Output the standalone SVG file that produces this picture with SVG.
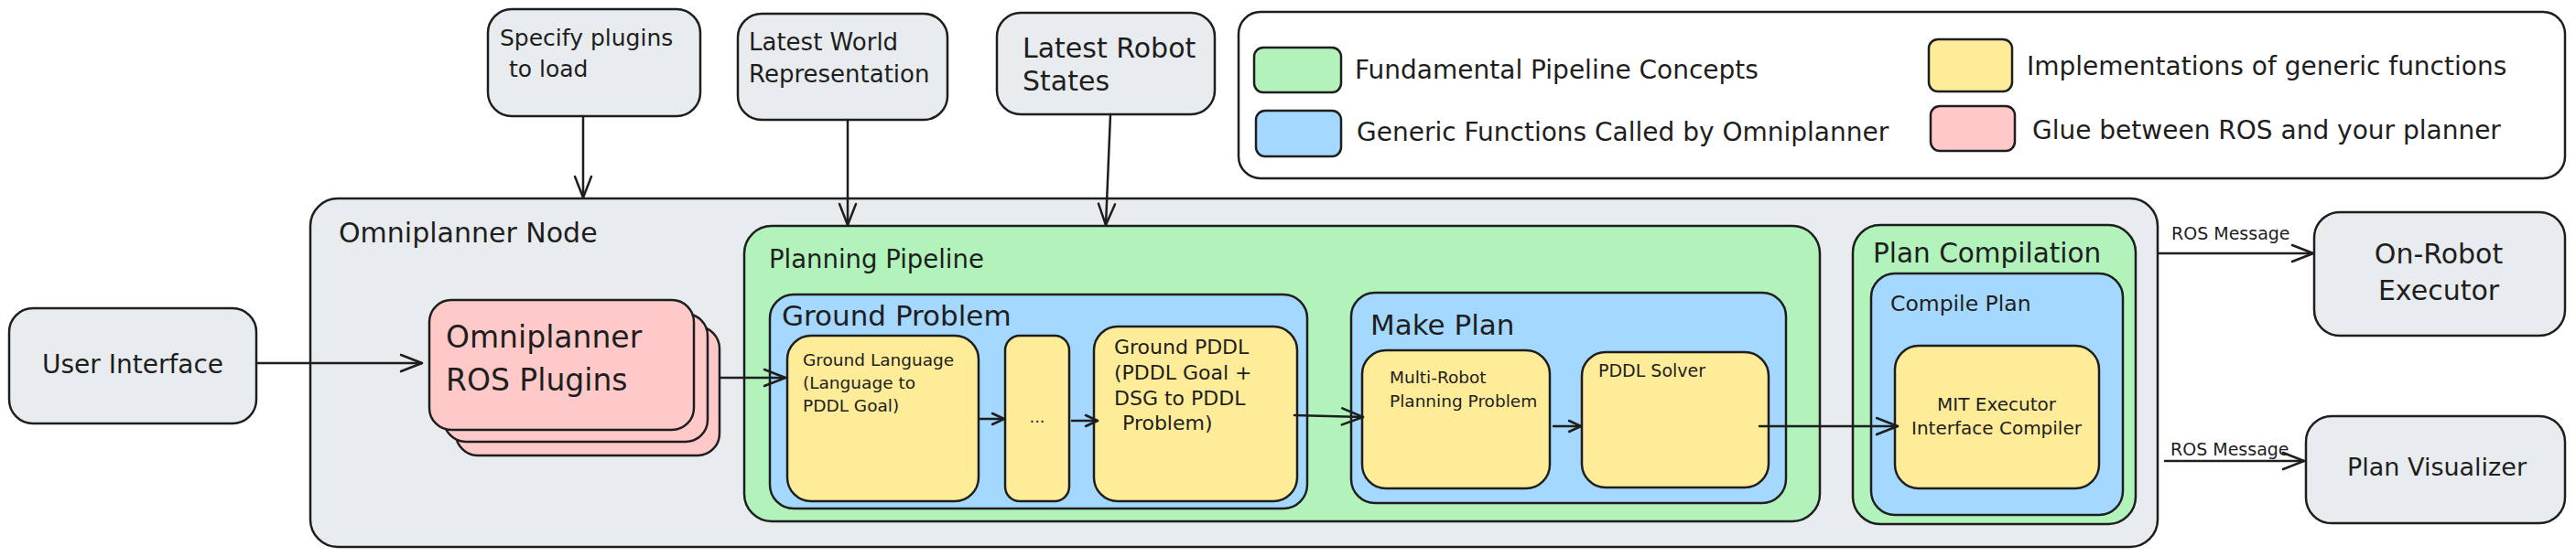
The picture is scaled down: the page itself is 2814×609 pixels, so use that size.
<svg xmlns="http://www.w3.org/2000/svg" width="2814" height="609" viewBox="0 0 2814 609">
<style>
.box{stroke:#1e1e1e;stroke-width:2.5;stroke-linejoin:round}
.gray{fill:#e9ecef}
.white{fill:#ffffff}
.green{fill:#b2f2bb}
.blue{fill:#a5d8ff}
.yellow{fill:#ffec99}
.pink{fill:#ffc9c9}
text{font-family:"DejaVu Sans","Liberation Sans",sans-serif;fill:#1e1e1e}
.conn{stroke:#1e1e1e;stroke-width:2.5;fill:none;stroke-linecap:round}
.big{marker-end:url(#ah)}
.small{marker-end:url(#as)}
.mid{text-anchor:middle}
</style>
<defs>
<marker id="ah" markerUnits="userSpaceOnUse" markerWidth="1" markerHeight="1" refX="0" refY="0" orient="auto" overflow="visible">
<path d="M-23,-9 L0,0 L-23,9" fill="none" stroke="#1e1e1e" stroke-width="2.5" stroke-linecap="round" stroke-linejoin="round"/>
</marker>
<marker id="as" markerUnits="userSpaceOnUse" markerWidth="1" markerHeight="1" refX="0" refY="0" orient="auto" overflow="visible">
<path d="M-13,-6 L0,0 L-13,6" fill="none" stroke="#1e1e1e" stroke-width="2.5" stroke-linecap="round" stroke-linejoin="round"/>
</marker>
</defs>
<rect width="2814" height="609" fill="#ffffff"/>

<g id="specify-plugins">
<rect class="box gray" x="533" y="10" width="232" height="117" rx="26"/>
<text x="546" y="50" font-size="25">Specify plugins</text>
<text x="556" y="84" font-size="25">to load</text>
</g>
<g id="latest-world">
<rect class="box gray" x="806" y="15" width="229" height="116" rx="26"/>
<text x="818" y="55" font-size="26">Latest World</text>
<text x="818" y="90" font-size="26">Representation</text>
</g>
<g id="latest-robot">
<rect class="box gray" x="1089" y="14" width="238" height="111" rx="26"/>
<text x="1117" y="63" font-size="30">Latest Robot</text>
<text x="1117" y="99" font-size="30">States</text>
</g>

<g id="legend">
<rect class="box white" x="1353" y="13" width="1449" height="182" rx="24"/>
<rect class="box green" x="1370" y="52" width="95" height="49" rx="10"/>
<rect class="box blue" x="1372" y="121" width="93" height="50" rx="10"/>
<rect class="box yellow" x="2107" y="43" width="91" height="57" rx="10"/>
<rect class="box pink" x="2109" y="116" width="92" height="49" rx="10"/>
<text x="1480" y="86" font-size="28">Fundamental Pipeline Concepts</text>
<text x="1482" y="154" font-size="28">Generic Functions Called by Omniplanner</text>
<text x="2214" y="82" font-size="28">Implementations of generic functions</text>
<text x="2220" y="152" font-size="28">Glue between ROS and your planner</text>
</g>

<g id="user-interface">
<rect class="box gray" x="10" y="337" width="270" height="126" rx="26"/>
<text class="mid" x="145" y="408" font-size="28">User Interface</text>
</g>

<g id="omniplanner-node">
<rect class="box gray" x="339" y="217" width="2018" height="381" rx="30"/>
<text x="370" y="265" font-size="30">Omniplanner Node</text>
</g>

<g id="ros-plugins">
<rect class="box pink" x="498" y="357" width="288" height="141" rx="24"/>
<rect class="box pink" x="485" y="343" width="288" height="140" rx="24"/>
<rect class="box pink" x="469" y="328" width="289" height="142" rx="24"/>
<text x="487" y="380" font-size="33">Omniplanner</text>
<text x="487" y="427" font-size="33">ROS Plugins</text>
</g>

<g id="planning-pipeline">
<rect class="box green" x="813" y="247" width="1175" height="323" rx="30"/>
<text x="840" y="293" font-size="27.5">Planning Pipeline</text>
</g>

<g id="ground-problem">
<rect class="box blue" x="841" y="322" width="587" height="234" rx="26"/>
<text x="854" y="356" font-size="31">Ground Problem</text>
</g>
<g id="ground-language">
<rect class="box yellow" x="860" y="367" width="209" height="181" rx="26"/>
<text x="877" y="400" font-size="18.5">Ground Language</text>
<text x="877" y="425" font-size="18.5">(Language to</text>
<text x="877" y="450" font-size="18.5">PDDL Goal)</text>
</g>
<g id="ellipsis">
<rect class="box yellow" x="1098" y="367" width="70" height="181" rx="16"/>
<text class="mid" x="1133" y="462" font-size="18">...</text>
</g>
<g id="ground-pddl">
<rect class="box yellow" x="1195" y="357" width="222" height="191" rx="26"/>
<text x="1217" y="387" font-size="22">Ground PDDL</text>
<text x="1217" y="415" font-size="22">(PDDL Goal +</text>
<text x="1217" y="443" font-size="22">DSG to PDDL</text>
<text x="1226" y="470" font-size="22">Problem)</text>
</g>

<g id="make-plan">
<rect class="box blue" x="1476" y="320" width="475" height="230" rx="26"/>
<text x="1497" y="366" font-size="31">Make Plan</text>
</g>
<g id="multi-robot">
<rect class="box yellow" x="1488" y="383" width="205" height="151" rx="26"/>
<text x="1518" y="419" font-size="18.5">Multi-Robot</text>
<text x="1518" y="445" font-size="18.5">Planning Problem</text>
</g>
<g id="pddl-solver">
<rect class="box yellow" x="1728" y="385" width="204" height="148" rx="26"/>
<text x="1746" y="412" font-size="19">PDDL Solver</text>
</g>

<g id="plan-compilation">
<rect class="box green" x="2024" y="246" width="309" height="327" rx="30"/>
<text x="2046" y="287" font-size="29.5">Plan Compilation</text>
</g>
<g id="compile-plan">
<rect class="box blue" x="2044" y="299" width="275" height="264" rx="26"/>
<text x="2065" y="340" font-size="23.5">Compile Plan</text>
</g>
<g id="mit-executor">
<rect class="box yellow" x="2070" y="378" width="223" height="156" rx="26"/>
<text class="mid" x="2181" y="449" font-size="20">MIT Executor</text>
<text class="mid" x="2181" y="475" font-size="20">Interface Compiler</text>
</g>

<g id="on-robot-executor">
<rect class="box gray" x="2528" y="232" width="274" height="135" rx="28"/>
<text class="mid" x="2664" y="288" font-size="30">On-Robot</text>
<text class="mid" x="2664" y="328" font-size="30">Executor</text>
</g>
<g id="plan-visualizer">
<rect class="box gray" x="2519" y="455" width="283" height="117" rx="28"/>
<text class="mid" x="2662" y="520" font-size="27">Plan Visualizer</text>
</g>

<g id="connectors">
<path class="conn big" d="M637,127 L637,216"/>
<path class="conn big" d="M926,131 L926,246"/>
<path class="conn big" d="M1213,125 L1208,246"/>
<path class="conn big" d="M280,397 L461,397"/>
<path class="conn big" d="M787,413 L858,413"/>
<path class="conn small" d="M1071,458 L1097,458"/>
<path class="conn small" d="M1171,460 L1199,460"/>
<path class="conn big" d="M1414,454 L1489,456"/>
<path class="conn small" d="M1697,466 L1727,466"/>
<path class="conn big" d="M1922,466 L2073,466"/>
<path class="conn big" d="M2358,277 L2527,277"/>
<text x="2372" y="262" font-size="19">ROS Message</text>
<path class="conn big" d="M2365,504 L2517,504"/>
<text x="2371" y="498" font-size="19">ROS Message</text>
</g>
</svg>
